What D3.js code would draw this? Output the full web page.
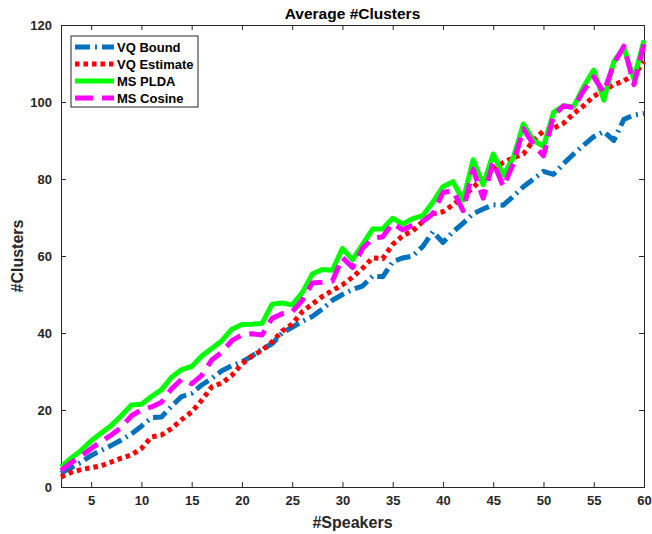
<!DOCTYPE html>
<html>
<head>
<meta charset="utf-8">
<script src="https://cdn.jsdelivr.net/npm/d3@7"></script>
<style>
  html, body { margin: 0; padding: 0; background: #fff; }
  svg { display: block; font-family: "Liberation Sans", Arial, sans-serif; }
</style>
</head>
<body>
<svg id="chart" width="652" height="534"></svg>
<script>
// Number of speakers (x) and average number of clusters found by each method
const speakers = d3.range(2, 61);

const vqBound = [3.6, 5, 6.4, 8.2, 9.5, 10.8, 12.2, 13.8, 15.8, 18, 18.2, 21, 23.5, 24.3, 26.5, 28.2, 30.2, 31.5, 32.5, 34,
  35.8, 37.2, 40, 41.5, 43, 44.3, 46.2, 48.5, 50, 51.3, 52.2, 54.8, 54.6, 58.5, 59.5, 60, 62.5, 66.3, 63.5, 66.3,
  68.5, 71, 72.2, 73.3, 73.2, 75.5, 78, 80, 82, 81.2, 84, 86.5, 88.8, 91, 92.3, 90, 95.5, 96.6, 97];

const vqEstimate = [2.6, 3.8, 4.5, 5, 5.5, 6.5, 7.5, 8.3, 10, 13, 13.5, 15.2, 17.5, 19.5, 22.5, 26, 27, 29, 32, 34,
  35.5, 37.7, 40.5, 42.3, 45.5, 47.5, 49.5, 51, 52.5, 54.5, 56.8, 59.5, 59.3, 63, 65.3, 66.5, 69, 71, 71.5, 73.3,
  75.5, 77.8, 80.3, 82.5, 84.3, 85.5, 86.5, 90, 92.5, 93.2, 94.5, 97, 99, 101.5, 103, 104.5, 105.5, 107, 110.5];

const msPlda = [5.2, 7.5, 9.5, 12, 14, 16, 18.5, 21.3, 21.5, 23.5, 25.3, 28.5, 30.5, 31.3, 34, 36, 38, 41, 42.2, 42.3,
  42.5, 47.5, 47.8, 47.3, 50.5, 55.3, 56.5, 56.3, 62, 59, 63, 67, 67, 69.8, 68.3, 69.7, 70.5, 74, 78, 79.3,
  74.5, 85, 78.5, 86.5, 81, 85.5, 94.3, 90, 88.5, 97.3, 99, 98.8, 104, 108.3, 100.5, 110.5, 114, 106, 116];

const msCosine = [4.3, 6.3, 8, 10, 11.8, 13.5, 15.5, 18.5, 20, 20.8, 22, 25.5, 28, 26.8, 29, 33, 35, 38, 39.5, 39.8,
  39.5, 43.8, 45, 45.5, 48.5, 53, 53.2, 53.5, 59.6, 57, 62, 64.5, 65, 68.5, 66.8, 68, 69, 71, 76.5, 77,
  71.8, 82.5, 75, 84.5, 78, 84, 93, 89, 86, 96.5, 99, 98.5, 103, 106.5, 102.5, 110, 114.5, 104.5, 115];

const seriesNames = ["VQ Bound", "VQ Estimate", "MS PLDA", "MS Cosine"];
const seriesValues = [vqBound, vqEstimate, msPlda, msCosine];

const xTicks = [5, 10, 15, 20, 25, 30, 35, 40, 45, 50, 55, 60];
const yTicks = [0, 20, 40, 60, 80, 100, 120];

// Line styles per series
const styles = [
  { color: "#0072BD", width: 5, dash: "15,5,2,5" },
  { color: "#FF0000", width: 5, dash: "4.5,4" },
  { color: "#00FF00", width: 5, dash: null },
  { color: "#FF00FF", width: 5, dash: "18,9" }
];

const svg = d3.select("#chart");
const plot = { left: 61, right: 644, top: 25, bottom: 487 };
const axisColor = "#262626";

const x = d3.scaleLinear().domain([2, 60]).range([plot.left, plot.right]);
const y = d3.scaleLinear().domain([0, 120]).range([plot.bottom, plot.top]);

// Plot frame with inward ticks on all four sides
const tickLen = 5;
const fmt = d3.format("d");

svg.append("g").attr("transform", `translate(0,${plot.bottom})`)
  .call(d3.axisBottom(x).tickValues(xTicks).tickSize(-tickLen).tickPadding(9).tickFormat(fmt));
svg.append("g").attr("transform", `translate(0,${plot.top})`)
  .call(d3.axisTop(x).tickValues(xTicks).tickSize(-tickLen).tickFormat(""));
svg.append("g").attr("transform", `translate(${plot.left},0)`)
  .call(d3.axisLeft(y).tickValues(yTicks).tickSize(-tickLen).tickPadding(9).tickFormat(fmt));
svg.append("g").attr("transform", `translate(${plot.right},0)`)
  .call(d3.axisRight(y).tickValues(yTicks).tickSize(-tickLen).tickFormat(""));

svg.selectAll(".domain").attr("stroke", axisColor).attr("stroke-width", 1);
svg.selectAll(".tick line").attr("stroke", axisColor).attr("stroke-width", 1);
svg.selectAll(".tick text")
  .attr("fill", axisColor)
  .style("font-family", "'Liberation Sans', Arial, sans-serif")
  .style("font-size", "13px")
  .style("font-weight", "bold");

// Series lines
const line = d3.line()
  .x((d, i) => x(speakers[i]))
  .y(d => y(d));

seriesValues.forEach((vals, k) => {
  const s = styles[k];
  svg.append("path")
    .datum(vals)
    .attr("fill", "none")
    .attr("stroke", s.color)
    .attr("stroke-width", s.width)
    .attr("stroke-linejoin", "round")
    .attr("stroke-linecap", "butt")
    .attr("stroke-dasharray", s.dash)
    .attr("d", line);
});

// Title and axis labels
svg.append("text")
  .attr("x", (plot.left + plot.right) / 2).attr("y", 19)
  .attr("text-anchor", "middle")
  .attr("fill", "#000")
  .style("font-size", "15.5px").style("font-weight", "bold")
  .text("Average #Clusters");

svg.append("text")
  .attr("x", (plot.left + plot.right) / 2).attr("y", 528)
  .attr("text-anchor", "middle")
  .attr("fill", axisColor)
  .style("font-size", "16px").style("font-weight", "bold")
  .text("#Speakers");

svg.append("text")
  .attr("transform", `translate(23,${(plot.top + plot.bottom) / 2}) rotate(-90)`)
  .attr("text-anchor", "middle")
  .attr("fill", axisColor)
  .style("font-size", "16px").style("font-weight", "bold")
  .text("#Clusters");

// Legend
const legend = svg.append("g");
legend.append("rect")
  .attr("x", 71).attr("y", 36).attr("width", 127).attr("height", 71)
  .attr("fill", "#fff").attr("stroke", axisColor).attr("stroke-width", 1);

seriesNames.forEach((name, k) => {
  const s = styles[k];
  const ly = 47 + k * 17;
  legend.append("line")
    .attr("x1", 75).attr("x2", 114).attr("y1", ly).attr("y2", ly)
    .attr("stroke", s.color).attr("stroke-width", s.width)
    .attr("stroke-dasharray", s.dash);
  legend.append("text")
    .attr("x", 117).attr("y", ly + 4.5)
    .attr("fill", "#000")
    .style("font-size", "13px").style("font-weight", "bold")
    .text(name);
});
</script>
</body>
</html>
